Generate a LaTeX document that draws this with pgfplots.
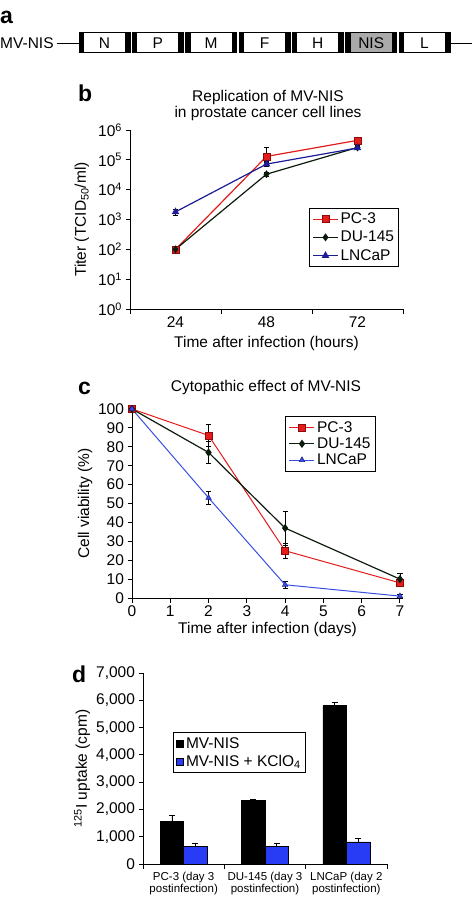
\documentclass[border=0pt]{standalone}
\usepackage{fontspec}
\setmainfont{Liberation Sans}
\usepackage{pgfplots}
\pgfplotsset{compat=1.18}
\definecolor{pcred}{RGB}{228,28,28}
\definecolor{pcredd}{RGB}{140,10,10}
\definecolor{dublk}{RGB}{12,28,12}
\definecolor{lnbD}{RGB}{28,28,150}
\definecolor{lnbC}{RGB}{55,80,225}
\definecolor{barblue}{RGB}{40,60,245}
\definecolor{nisgray}{RGB}{170,170,170}
\newcommand{\fs}[1]{\fontsize{#1}{#1}\selectfont}
\pgfplotsset{
  myax/.style={
    scale only axis, axis lines*=left, tick align=outside,
    axis line style={line width=1pt, black},
    tick style={black, line width=0.9pt},
    major tick length=4.5pt,
    tick label style={font=\fs{15.5}},
    label style={font=\fs{15.5}},
    /pgf/number format/assume math mode=true,
    clip=false,
    legend cell align=left,
    legend style={draw=black, line width=0.8pt, font=\fs{15.5}, inner sep=2.5pt, row sep=2pt},
  },
  lineleg/.style={legend image code/.code={\draw[mark repeat=2,mark phase=2,##1] plot coordinates {(0pt,0pt) (12.5pt,0pt) (25pt,0pt)};}},
  errs/.style={error bars/.cd, y dir=both, y explicit, error bar style={line width=0.8pt, black}, error mark options={rotate=90, black, line width=0.8pt, mark size=2.6pt}},
  errp/.style={error bars/.cd, y dir=plus, y explicit, error bar style={line width=0.8pt, black}, error mark options={rotate=90, black, line width=0.8pt, mark size=3pt}},
}
\begin{document}
\begin{tikzpicture}
\path[use as bounding box] (0pt,0pt) rectangle (475pt,-900pt);

% ---------- panel a: construct map ----------
\begin{axis}[at={(0pt,-100pt)}, anchor=south west, scale only axis,
  width=475pt, height=100pt, xmin=0, xmax=475, ymin=-100, ymax=0,
  hide axis, clip=false]
\addplot[black, line width=1pt] coordinates {(57,-43.3) (79,-43.3)};
\addplot[black, line width=1pt] coordinates {(450,-43.3) (472,-43.3)};
\draw[fill=white, draw=black, line width=0.8pt] (axis cs:79,-52) rectangle (axis cs:130,-32.3);
\draw[fill=white, draw=black, line width=0.8pt] (axis cs:132.3,-52) rectangle (axis cs:183.3,-32.3);
\draw[fill=white, draw=black, line width=0.8pt] (axis cs:185.7,-52) rectangle (axis cs:236.7,-32.3);
\draw[fill=white, draw=black, line width=0.8pt] (axis cs:239,-52) rectangle (axis cs:290,-32.3);
\draw[fill=white, draw=black, line width=0.8pt] (axis cs:292.3,-52) rectangle (axis cs:343.3,-32.3);
\draw[fill=nisgray, draw=black, line width=0.8pt] (axis cs:345.7,-52) rectangle (axis cs:396.7,-32.3);
\draw[fill=white, draw=black, line width=0.8pt] (axis cs:399,-52) rectangle (axis cs:450,-32.3);
\fill[black] (axis cs:79,-52) rectangle (axis cs:83.8,-32.3);
\fill[black] (axis cs:125,-52) rectangle (axis cs:130,-32.3);
\fill[black] (axis cs:132.3,-52) rectangle (axis cs:137.1,-32.3);
\fill[black] (axis cs:178.3,-52) rectangle (axis cs:183.3,-32.3);
\fill[black] (axis cs:185.7,-52) rectangle (axis cs:190.5,-32.3);
\fill[black] (axis cs:231.7,-52) rectangle (axis cs:236.7,-32.3);
\fill[black] (axis cs:239,-52) rectangle (axis cs:243.8,-32.3);
\fill[black] (axis cs:285,-52) rectangle (axis cs:290,-32.3);
\fill[black] (axis cs:292.3,-52) rectangle (axis cs:297.1,-32.3);
\fill[black] (axis cs:338.3,-52) rectangle (axis cs:343.3,-32.3);
\fill[black] (axis cs:345.7,-52) rectangle (axis cs:350.5,-32.3);
\fill[black] (axis cs:391.7,-52) rectangle (axis cs:396.7,-32.3);
\fill[black] (axis cs:399,-52) rectangle (axis cs:403.8,-32.3);
\fill[black] (axis cs:445,-52) rectangle (axis cs:450,-32.3);
\node[font=\fs{15.5}, anchor=base] at (axis cs:104.5,-48.3) {N};
\node[font=\fs{15.5}, anchor=base] at (axis cs:157.8,-48.3) {P};
\node[font=\fs{15.5}, anchor=base] at (axis cs:211.2,-48.3) {M};
\node[font=\fs{15.5}, anchor=base] at (axis cs:264.5,-48.3) {F};
\node[font=\fs{15.5}, anchor=base] at (axis cs:317.8,-48.3) {H};
\node[font=\fs{15.5}, anchor=base] at (axis cs:371.2,-48.3) {NIS};
\node[font=\fs{15.5}, anchor=base] at (axis cs:424.5,-48.3) {L};
\node[font=\fs{15.5}, anchor=base west, inner sep=0pt] at (axis cs:0,-48.3) {MV-NIS};
\end{axis}

% panel letters and titles
\node[font=\bfseries\fs{23}, anchor=base west, inner sep=0pt] at (0pt,-23pt) {a};
\node[font=\bfseries\fs{23}, anchor=base west, inner sep=0pt] at (78pt,-101pt) {b};
\node[font=\bfseries\fs{23}, anchor=base west, inner sep=0pt] at (78pt,-394pt) {c};
\node[font=\bfseries\fs{23}, anchor=base west, inner sep=0pt] at (72pt,-682pt) {d};
\node[font=\fs{15.5}, anchor=base, inner sep=0pt] at (268pt,-101pt) {Replication of MV-NIS};
\node[font=\fs{15.5}, anchor=base, inner sep=0pt] at (268pt,-117.5pt) {in prostate cancer cell lines};
\node[font=\fs{15.5}, anchor=base, inner sep=0pt] at (266pt,-391.5pt) {Cytopathic effect of MV-NIS};

% ---------- panel b ----------
\begin{axis}[myax, lineleg, at={(130pt,-309pt)}, anchor=south west,
  width=273pt, height=179pt,
  ymode=log, ymin=1, ymax=1e6, yminorticks=false,
  ytick={1,10,100,1000,10000,100000,1000000},
  yticklabels={10\textsuperscript{0},10\textsuperscript{1},10\textsuperscript{2},10\textsuperscript{3},10\textsuperscript{4},10\textsuperscript{5},10\textsuperscript{6}},
  xmin=0.5, xmax=3.5, xtick={0.5,1.5,2.5,3.5}, xticklabels={24,48,72,{}},
  xticklabel style={xshift=45.5pt},
  xlabel={Time after infection (hours)},
  ylabel={Titer (TCID\textsubscript{50}/ml)},
  xlabel style={at={(axis description cs:0.5,-0.19)}, anchor=center},
  ylabel style={at={(axis description cs:-0.176,0.5)}, anchor=center},
  legend style={at={(axis description cs:0.985,0.564)}, anchor=north east},
]
\addplot[color=pcred, line width=1.2pt, mark=square*, mark size=3.5pt,
  mark options={fill=pcred, draw=pcredd, line width=0.6pt}, errs]
  coordinates {(1,100) (2,1.3e5) += (0,1.4e5) -= (0,4e4) (3,4.5e5) +- (0,5e4)};
\addlegendentry{PC-3}
\addplot[color=dublk, line width=1.2pt, mark=diamond*, mark size=3pt,
  mark options={fill=dublk, draw=dublk}, errs]
  coordinates {(1,100) (2,3.3e4) +- (0,5e3) (3,2.6e5) +- (0,4e4)};
\addlegendentry{DU-145}
\addplot[color=lnbD, line width=1.2pt, mark=triangle*, mark size=3.2pt,
  mark options={fill=lnbD, draw=lnbD}, errs]
  coordinates {(1,1.8e3) +- (0,4e2) (2,7.2e4) +- (0,1e4) (3,2.5e5) +- (0,3e4)};
\addlegendentry{LNCaP}
\end{axis}

% ---------- panel c ----------
\begin{axis}[myax, lineleg, at={(132pt,-598pt)}, anchor=south west,
  width=271pt, height=189pt,
  xmin=0, xmax=7.08, ymin=0, ymax=100,
  xtick={0,1,2,3,4,5,6,7}, ytick={0,10,20,30,40,50,60,70,80,90,100},
  xlabel={Time after infection (days)},
  ylabel={Cell viability (\%)},
  xlabel style={at={(axis description cs:0.5,-0.169)}, anchor=center},
  ylabel style={at={(axis description cs:-0.173,0.5)}, anchor=center},
  legend style={at={(axis description cs:0.90,0.963)}, anchor=north east, row sep=0pt, inner sep=3pt},
]
\addplot[color=pcred, line width=1pt, mark=square*, mark size=3.5pt,
  mark options={fill=pcred, draw=pcredd, line width=0.6pt}, errs]
  coordinates {(0,100) (2,86) +- (0,6) (4,25) +- (0,4) (7,8) +- (0,2)};
\addlegendentry{PC-3}
\addplot[color=dublk, line width=1.2pt, mark=diamond*, mark size=3.2pt,
  mark options={fill=dublk, draw=dublk}, errs]
  coordinates {(0,100) (2,77) +- (0,6) (4,37) +- (0,9) (7,10) +- (0,3)};
\addlegendentry{DU-145}
\addplot[color=lnbC, line width=1pt, mark=triangle*, mark size=3.2pt,
  mark options={fill=lnbC, draw=lnbD, line width=0.5pt}, errs]
  coordinates {(0,100) (2,53) +- (0,3.5) (4,7) +- (0,2) (7,1) +- (0,1)};
\addlegendentry{LNCaP}
\end{axis}

% ---------- panel d ----------
\begin{axis}[myax, at={(143pt,-864pt)}, anchor=south west,
  width=244pt, height=191pt,
  ybar=0pt, bar width=23.5pt,
  xmin=0.5, xmax=3.5, ymin=0, ymax=7000,
  ytick={0,1000,2000,3000,4000,5000,6000,7000},
  /pgf/number format/1000 sep={,},
  xtick={0.5,1.5,2.5,3.5},
  xticklabels={{PC-3 (day 3\\postinfection)},{DU-145 (day 3\\postinfection)},{LNCaP (day 2\\postinfection)},{}},
  xticklabel style={xshift=40.67pt, align=center, font=\fontsize{11.5}{12.5}\selectfont},
  ylabel={\textsuperscript{125}I uptake (cpm)},
  ylabel style={at={(axis description cs:-0.25,0.5)}, anchor=center},
  legend style={at={(axis description cs:0.123,0.69)}, anchor=north west, inner sep=3pt, row sep=1pt},
  legend image code/.code={\draw[#1] (0pt,-3.5pt) rectangle (7pt,3.5pt);},
]
\addplot[fill=black, draw=black, line width=0.6pt, errp]
  coordinates {(1,1550) +- (0,240) (2,2325) +- (0,50) (3,5800) +- (0,120)};
\addlegendentry{MV-NIS}
\addplot[fill=barblue, draw=black, line width=0.6pt, errp]
  coordinates {(1,640) +- (0,110) (2,640) +- (0,100) (3,810) +- (0,120)};
\addlegendentry{MV-NIS + KClO\textsubscript{4}}
\end{axis}
\end{tikzpicture}
\end{document}
